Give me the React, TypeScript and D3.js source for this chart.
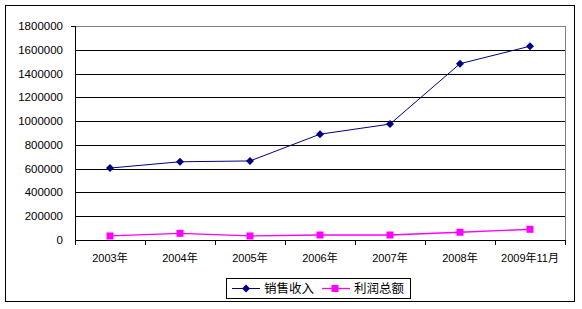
import React from "react";
import * as d3 from "d3";

const categories = ["2003年", "2004年", "2005年", "2006年", "2007年", "2008年", "2009年11月"];
const salesRevenue = [605000, 658000, 665000, 890000, 975000, 1483000, 1630000];
const totalProfit = [34000, 56000, 34000, 42000, 42000, 65000, 90000];
const yTicks = [0, 200000, 400000, 600000, 800000, 1000000, 1200000, 1400000, 1600000, 1800000];
const seriesNames = ["销售收入", "利润总额"];

const W = 582, H = 309;
const plot = { left: 75, right: 565, top: 26, bottom: 240 };
const font = "'Liberation Sans', 'Noto Sans CJK SC', sans-serif";

export default function App() {
  const x = d3.scaleBand<string>().domain(categories).range([plot.left, plot.right]);
  const y = d3.scaleLinear().domain([0, 1800000]).range([plot.bottom, plot.top]);
  const cx = (c: string) => (x(c) as number) + x.bandwidth() / 2;
  const line = d3.line<number>().x((_, i) => cx(categories[i])).y(v => y(v));
  const boundaries = categories.map(c => x(c) as number).concat([plot.right]);

  return (
    <svg width={W} height={H} style={{ position: "absolute", left: 0, top: 0 }}>
      <rect x={0} y={0} width={W} height={H} fill="#fff" />
      <rect x={5.5} y={5.5} width={569} height={296} fill="#fff" stroke="#000" strokeWidth={1} />
      {/* plot frame (top/right gray) */}
      <line x1={plot.left} x2={plot.right + 0.5} y1={plot.top + 0.5} y2={plot.top + 0.5} stroke="#808080" />
      <line x1={plot.right + 0.5} x2={plot.right + 0.5} y1={plot.top} y2={plot.bottom} stroke="#808080" />
      {/* gridlines */}
      {yTicks.slice(1, -1).map(t => (
        <line key={t} x1={plot.left} x2={plot.right} y1={Math.round(y(t)) + 0.5} y2={Math.round(y(t)) + 0.5} stroke="#000" />
      ))}
      {/* axes */}
      <line x1={plot.left + 0.5} x2={plot.left + 0.5} y1={plot.top} y2={plot.bottom + 0.5} stroke="#000" />
      <line x1={plot.left - 4} x2={plot.left + 0.5} y1={plot.top + 0.5} y2={plot.top + 0.5} stroke="#000" />
      <line x1={plot.left} x2={plot.right + 0.5} y1={plot.bottom + 0.5} y2={plot.bottom + 0.5} stroke="#000" />
      {boundaries.map((b, i) => (
        <line key={i} x1={Math.round(b) + 0.5} x2={Math.round(b) + 0.5} y1={plot.bottom} y2={plot.bottom + 5} stroke="#000" />
      ))}
      {yTicks.map(t => (
        <text key={t} x={63} y={y(t) + 4} textAnchor="end" fontFamily={font} fontSize={11.5} fill="#000">{t}</text>
      ))}
      {categories.map(c => (
        <text key={c} x={cx(c)} y={262} textAnchor="middle" fontFamily={font} fontSize={11} fill="#000">{c}</text>
      ))}
      {/* series */}
      <path d={line(salesRevenue) as string} fill="none" stroke="#000080" strokeWidth={1} />
      {salesRevenue.map((v, i) => {
        const px = cx(categories[i]), py = y(v);
        return <path key={i} d={`M${px},${py - 4}L${px + 4},${py}L${px},${py + 4}L${px - 4},${py}Z`} fill="#000080" />;
      })}
      <path d={line(totalProfit) as string} fill="none" stroke="#FF00FF" strokeWidth={1.3} />
      {totalProfit.map((v, i) => {
        const px = cx(categories[i]), py = y(v);
        return <rect key={i} x={px - 3.5} y={py - 3.5} width={7} height={7} fill="#FF00FF" />;
      })}
      {/* legend */}
      <rect x={226.5} y={278.5} width={184} height={20} fill="#fff" stroke="#000" />
      <line x1={232} x2={260} y1={288.5} y2={288.5} stroke="#000080" />
      <path d="M246,284.5L250,288.5L246,292.5L242,288.5Z" fill="#000080" />
      <text x={264} y={293} fontFamily={font} fontSize={12.5} fill="#000">{seriesNames[0]}</text>
      <line x1={322} x2={350} y1={288.5} y2={288.5} stroke="#FF00FF" strokeWidth={1.3} />
      <rect x={331.5} y={285} width={7} height={7} fill="#FF00FF" />
      <text x={354} y={293} fontFamily={font} fontSize={12.5} fill="#000">{seriesNames[1]}</text>
    </svg>
  );
}
